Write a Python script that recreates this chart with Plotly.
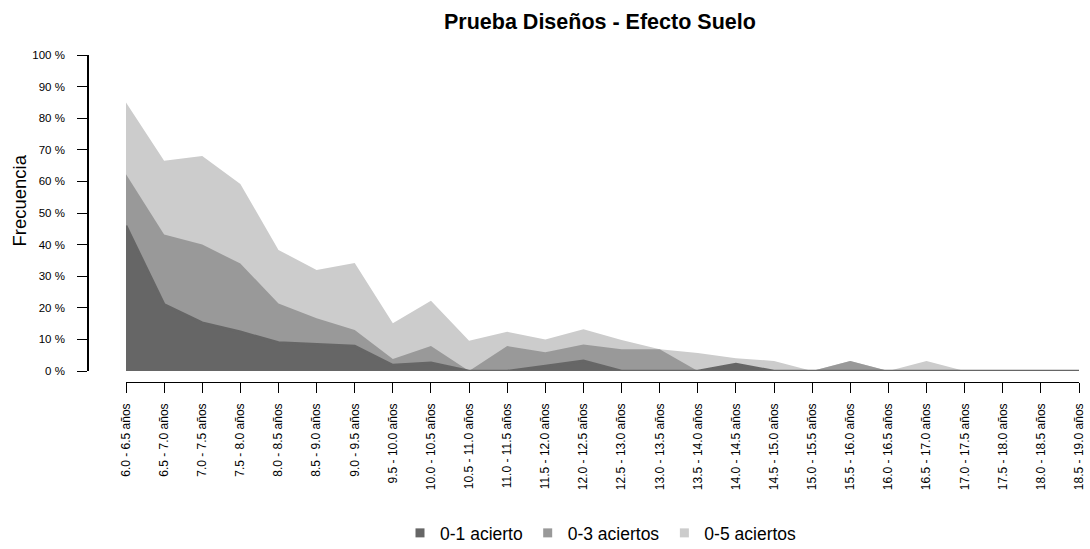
import plotly.graph_objects as go

# Age bands (half-year intervals)
age_bands = [
    "6.0 - 6.5 años", "6.5 - 7.0 años", "7.0 - 7.5 años", "7.5 - 8.0 años",
    "8.0 - 8.5 años", "8.5 - 9.0 años", "9.0 - 9.5 años", "9.5 - 10.0 años",
    "10.0 - 10.5 años", "10.5 - 11.0 años", "11.0 - 11.5 años", "11.5 - 12.0 años",
    "12.0 - 12.5 años", "12.5 - 13.0 años", "13.0 - 13.5 años", "13.5 - 14.0 años",
    "14.0 - 14.5 años", "14.5 - 15.0 años", "15.0 - 15.5 años", "15.5 - 16.0 años",
    "16.0 - 16.5 años", "16.5 - 17.0 años", "17.0 - 17.5 años", "17.5 - 18.0 años",
    "18.0 - 18.5 años", "18.5 - 19.0 años",
]

# Cumulative frequency (%) of children with at most N correct answers
hits_0_1 = [46.0, 21.1, 15.3, 12.4, 9.0, 8.4, 7.9, 1.9, 2.6, 0.0, 0.0, 1.6, 3.2,
            0.0, 0.0, 0.0, 2.2, 0.0, 0.0, 0.0, 0.0, 0.0, 0.0, 0.0, 0.0, 0.0]
hits_0_3 = [62.3, 43.2, 40.0, 34.0, 21.4, 16.7, 13.0, 3.8, 7.9, 0.0, 7.9, 5.9, 8.4,
            6.9, 6.9, 0.0, 2.2, 0.0, 0.0, 3.2, 0.0, 0.0, 0.0, 0.0, 0.0, 0.0]
hits_0_5 = [85.0, 66.5, 68.0, 59.2, 38.3, 32.0, 34.2, 15.1, 22.2, 9.6, 12.4, 10.0, 13.2,
            9.8, 6.9, 5.7, 4.0, 3.2, 0.0, 3.2, 0.0, 3.2, 0.0, 0.0, 0.0, 0.0]

series_names = ["0-1 acierto", "0-3 aciertos", "0-5 aciertos"]
series_colors = ["#666666", "#999999", "#cccccc"]

y_ticks = list(range(0, 101, 10))
y_tick_text = [f"{v} %" for v in y_ticks]

FONT = "Liberation Sans, Arial, sans-serif"

x_idx = list(range(len(age_bands)))

fig = go.Figure()

# Overlaid areas, widest group at the back
for name, vals, color, lw in [
    (series_names[2], hits_0_5, series_colors[2], 0),
    (series_names[1], hits_0_3, series_colors[1], 0),
    (series_names[0], hits_0_1, series_colors[0], 2.5),
]:
    fig.add_trace(go.Scatter(
        x=x_idx, y=vals, mode="lines", fill="tozeroy",
        fillcolor=color, line=dict(color=color, width=lw),
        showlegend=False, hoverinfo="skip",
    ))

# Legend entries as square swatches
for name, color in zip(series_names, series_colors):
    fig.add_trace(go.Scatter(
        x=[None], y=[None], mode="markers", name=name,
        marker=dict(symbol="square", size=9, color=color),
    ))

W, H = 1090, 549
left, right, top, bottom = 88, 11, 55, 149
plot_w = W - left - right
plot_h = H - top - bottom
base_px = H - bottom            # paper bottom edge in pixels
x_dom0 = (126 - left) / plot_w
y_dom0 = (base_px - 371) / plot_h

x_range = [0, len(age_bands) - 1]

fig.update_layout(
    width=W, height=H,
    margin=dict(l=left, r=right, t=top, b=bottom, autoexpand=False),
    paper_bgcolor="white", plot_bgcolor="white",
    font=dict(family=FONT, color="black", size=11),
    showlegend=True,
    legend=dict(
        orientation="h", x=(601 - left) / plot_w, xanchor="center",
        y=(base_px - 551) / plot_h, yanchor="bottom",
        font=dict(size=17.5, family=FONT, color="black"), itemwidth=30,
        bgcolor="rgba(0,0,0,0)", borderwidth=0,
    ),
    # axis line and tick marks, detached below the data
    xaxis=dict(
        domain=[x_dom0, 1], range=x_range,
        anchor="free", position=(base_px - 382) / plot_h, automargin=False,
        tickmode="array", tickvals=x_idx, showticklabels=False,
        ticks="outside", ticklen=10, tickwidth=1.3,
        tickcolor="black", showline=True, linecolor="black", linewidth=1.3,
        showgrid=False, zeroline=False,
    ),
    # rotated category labels
    xaxis2=dict(
        domain=[x_dom0, 1], range=x_range, overlaying="x", matches="x",
        anchor="free", position=0, automargin=False, side="bottom",
        tickmode="array", tickvals=x_idx, ticktext=age_bands,
        tickangle=-90, ticks="", showline=False,
        showgrid=False, zeroline=False,
        tickfont=dict(size=12, family=FONT, color="black"),
    ),
    yaxis=dict(
        domain=[y_dom0, 1], range=[0, 100],
        anchor="free", position=0, automargin=False,
        tickmode="array", tickvals=y_ticks, ticktext=y_tick_text,
        ticks="outside", ticklen=10, tickwidth=1.3, tickcolor="black",
        showline=True, linecolor="black", linewidth=1.5,
        showgrid=False, zeroline=False, ticklabelstandoff=10,
        tickfont=dict(size=11.5, family=FONT, color="black"),
    ),
)

# invisible carrier so the label axis is drawn
fig.add_trace(go.Scatter(x=[None], y=[None], xaxis="x2", yaxis="y",
                         showlegend=False, hoverinfo="skip"))

fig.add_annotation(
    text="<b>Prueba Diseños - Efecto Suelo</b>",
    xref="paper", yref="paper",
    x=(600 - left) / plot_w, y=(base_px - 22) / plot_h,
    xanchor="center", yanchor="middle", showarrow=False,
    font=dict(size=21.5, family=FONT, color="black"),
)
fig.add_annotation(
    text="Frecuencia", textangle=-90,
    xref="paper", yref="paper",
    x=(18.5 - left) / plot_w, y=(base_px - 201) / plot_h,
    xanchor="center", yanchor="middle", showarrow=False,
    font=dict(size=18.5, family=FONT, color="black"),
)

fig.write_html("out.html")
